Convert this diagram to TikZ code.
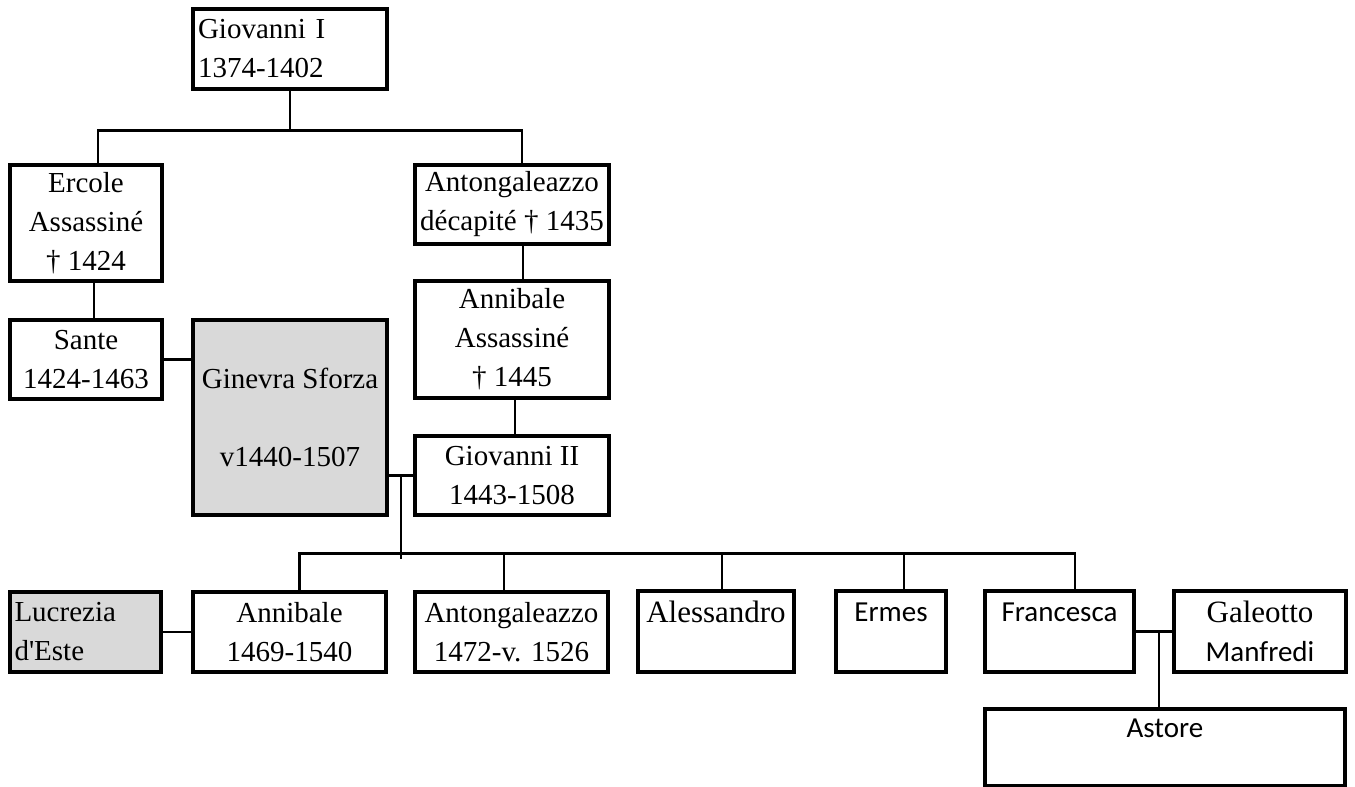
\documentclass[tikz,border=0pt]{standalone}
\usepackage{fontspec}
\setmainfont{Liberation Serif}
\newfontfamily\calibri{Carlito}
\definecolor{spousegray}{RGB}{217, 217, 217}
\usetikzlibrary{positioning}

\begin{document}
\begin{tikzpicture}[x=0.5pt, y=-0.5pt,
  person/.style={draw, line width=1.8pt, inner xsep=2pt, inner ysep=0pt, align=center, font=\fontsize{14.5}{19.5}\selectfont},
  spouse/.style={person, fill=spousegray},
  link/.style={line width=1.4pt},
  weaklink/.style={line width=1pt}]
  \useasboundingbox (0,0) rectangle (1355,787);

  % First generations
  \node[person, minimum width=97pt, minimum height=40pt, text width=92pt, align=left] (gio1) at (290,49) {Giovanni I\\1374-1402};
  \node[person, minimum width=76pt, minimum height=58pt] (ercole) at (86,223) {Ercole\\Assassiné\\† 1424};
  \node[person, minimum width=97pt, minimum height=39.5pt] (antg) at (512,204.5) {Antongaleazzo\\décapité † 1435};
  \node[person, minimum width=97pt, minimum height=58.5pt] (annib1) at (512,339.5) {Annibale\\Assassiné\\† 1445};
  \node[person, minimum width=76pt, minimum height=39.5pt] (sante) at (86,359.5) {Sante\\1424-1463};
  \node[spouse, minimum width=97pt, minimum height=97.5pt] (ginevra) at (290,417.5) {Ginevra Sforza\\\mbox{}\\v1440-1507};
  \node[person, minimum width=97pt, minimum height=39.5pt] (gio2) at (512,475.5) {Giovanni II\\1443-1508};

  % Children of Giovanni II
  \node[spouse, minimum width=75.5pt, minimum height=40pt, text width=71pt, align=left] (lucrezia) at (85.5,632) {Lucrezia\\d\textquotesingle Este};
  \node[person, minimum width=96.5pt, minimum height=40pt] (annib2) at (289.5,632) {Annibale\\1469-1540};
  \node[person, minimum width=96.5pt, minimum height=40pt] (antg2) at (511.5,632) {Antongaleazzo\\1472-v. 1526};
  \node[person, minimum width=78pt, minimum height=40.5pt, font=\fontsize{15.5}{19.5}\selectfont] (aless) at (716,631.5) {Alessandro\\\mbox{}};
  \node[person, minimum width=55pt, minimum height=40.5pt, font=\calibri\fontsize{14.5}{19.5}\selectfont] (ermes) at (891,631.5) {Ermes\\\mbox{}};
  \node[person, minimum width=74.5pt, minimum height=40.5pt, font=\calibri\fontsize{14.5}{19.5}\selectfont] (franc) at (1059.5,631.5) {Francesca\\\mbox{}};
  \node[person, minimum width=86pt, minimum height=40.5pt] (galeotto) at (1260,631.5) {{\fontsize{15.5}{19.5}\selectfont Galeotto}\\{\calibri Manfredi}};
  \node[person, minimum width=180pt, minimum height=38.5pt, font=\calibri\fontsize{14.5}{19.5}\selectfont] (astore) at (1165,747.5) {Astore\\\mbox{}};

  % Links
  \draw[link] (gio1.south) -- ++(0,40) coordinate (top);
  \draw[link] ([xshift=6pt]ercole.north) |- (top) -| ([xshift=5pt]antg.north);
  \draw[link] ([xshift=5.5pt]antg.south) -- ++(0,37);
  \draw[link] ([xshift=4pt]ercole.south) -- ++(0,39);
  \draw[link] ([xshift=1.5pt]annib1.south) -- ++(0,38);
  \draw[link] (sante.east) -- (sante.east -| ginevra.west);
  \draw[link] (gio2.west) -- (gio2.west -| ginevra.east) coordinate[pos=0.5] (m1);
  \draw[link] (m1) -- ++(0,83);
  \draw[link] ([xshift=5pt]annib2.north) -- ++(0,-37) coordinate (bar2) -| ([xshift=7.75pt]franc.north);
  \foreach \kid/\dx in {antg2/-3.75pt, aless/3pt, ermes/6.5pt}
    \draw[weaklink] ([xshift=\dx]\kid.north) -- ++(0,-37);
  \draw[link] (lucrezia.east) -- (annib2.west);
  \draw[link] (franc.east) -- (galeotto.west) coordinate[pos=0.65] (m2);
  \draw[weaklink] (m2) -- (m2 |- astore.north);
\end{tikzpicture}
\end{document}
